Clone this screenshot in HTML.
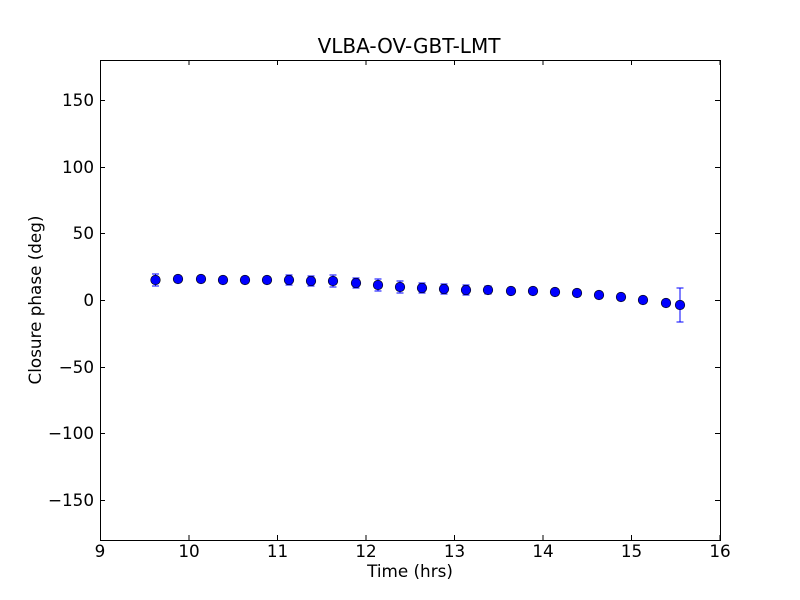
<!DOCTYPE html><html><head><style>body{margin:0;background:#fff}svg{display:block}text{font-family:"DejaVu Sans","Liberation Sans",sans-serif;font-size:16.8px;fill:#000}</style></head><body>
<svg width="800" height="600" xmlns="http://www.w3.org/2000/svg">
<rect width="800" height="600" fill="#fff"/>
<g stroke="#000" stroke-width="1" fill="none">
<rect x="100.5" y="60.5" width="620" height="480"/>
<path d="M100.5 540v-5M189 540v-5M277.5 540v-5M366 540v-5M454.5 540v-5M543 540v-5M631.5 540v-5M720 540v-5
M100.5 60v5M189 60v5M277.5 60v5M366 60v5M454.5 60v5M543 60v5M631.5 60v5M720 60v5
M100 100.5h5M100 167.5h5M100 233.5h5M100 300.5h5M100 367.5h5M100 433.5h5M100 500.5h5
M720 100.5h-5M720 167.5h-5M720 233.5h-5M720 300.5h-5M720 367.5h-5M720 433.5h-5M720 500.5h-5"/>
</g>
<g text-anchor="middle">
<text x="100" y="557">9</text><text x="189" y="557">10</text><text x="277.5" y="557">11</text><text x="366" y="557">12</text><text x="454.5" y="557">13</text><text x="543" y="557">14</text><text x="631.5" y="557">15</text><text x="720" y="557">16</text>
<text x="410" y="577">Time (hrs)</text>
<text x="409" y="53" style="font-size:20px">VLBA-OV-GBT-LMT</text>
<text transform="translate(41 300) rotate(-90)">Closure phase (deg)</text>
</g>
<g text-anchor="end">
<text x="94" y="106">150</text><text x="94" y="173">100</text><text x="94" y="239">50</text><text x="94" y="306">0</text><text x="94" y="373">−50</text><text x="94" y="439">−100</text><text x="94" y="506">−150</text>
</g>
<g stroke="#00f" stroke-width="1" fill="none">
<path d="M155.5 274V286M152 274h7M152 286h7"/>
<path d="M178 276V282M174.5 276h7M174.5 282h7"/>
<path d="M201 276V282M197.5 276h7M197.5 282h7"/>
<path d="M223 277V283M219.5 277h7M219.5 283h7"/>
<path d="M245 277V283M241.5 277h7M241.5 283h7"/>
<path d="M267 277V283M263.5 277h7M263.5 283h7"/>
<path d="M289 275V285M285.5 275h7M285.5 285h7"/>
<path d="M311 276V286M307.5 276h7M307.5 286h7"/>
<path d="M333 275V287M329.5 275h7M329.5 287h7"/>
<path d="M356 278V288M352.5 278h7M352.5 288h7"/>
<path d="M378 279V291M374.5 279h7M374.5 291h7"/>
<path d="M400 281V293M396.5 281h7M396.5 293h7"/>
<path d="M422 283V293M418.5 283h7M418.5 293h7"/>
<path d="M444 284V294M440.5 284h7M440.5 294h7"/>
<path d="M466 285V295M462.5 285h7M462.5 295h7"/>
<path d="M488 286V294M484.5 286h7M484.5 294h7"/>
<path d="M511 288V294M507.5 288h7M507.5 294h7"/>
<path d="M533 288V294M529.5 288h7M529.5 294h7"/>
<path d="M555 290V294M551.5 290h7M551.5 294h7"/>
<path d="M577 291V295M573.5 291h7M573.5 295h7"/>
<path d="M599 293V297M595.5 293h7M595.5 297h7"/>
<path d="M621 295V299M617.5 295h7M617.5 299h7"/>
<path d="M643 298V302M639.5 298h7M639.5 302h7"/>
<path d="M666 300V306M662.5 300h7M662.5 306h7"/>
<path d="M680 288V322M676.5 288h7M676.5 322h7"/>
</g>
<g fill="#00f" stroke="#000" stroke-width="0.6">
<circle cx="155.5" cy="280" r="4.8"/><circle cx="178" cy="279" r="4.8"/><circle cx="201" cy="279" r="4.8"/><circle cx="223" cy="280" r="4.8"/><circle cx="245" cy="280" r="4.8"/><circle cx="267" cy="280" r="4.8"/><circle cx="289" cy="280" r="4.8"/><circle cx="311" cy="281" r="4.8"/><circle cx="333" cy="281" r="4.8"/><circle cx="356" cy="283" r="4.8"/><circle cx="378" cy="285" r="4.8"/><circle cx="400" cy="287" r="4.8"/><circle cx="422" cy="288" r="4.8"/><circle cx="444" cy="289" r="4.8"/><circle cx="466" cy="290" r="4.8"/><circle cx="488" cy="290" r="4.8"/><circle cx="511" cy="291" r="4.8"/><circle cx="533" cy="291" r="4.8"/><circle cx="555" cy="292" r="4.8"/><circle cx="577" cy="293" r="4.8"/><circle cx="599" cy="295" r="4.8"/><circle cx="621" cy="297" r="4.8"/><circle cx="643" cy="300" r="4.8"/><circle cx="666" cy="303" r="4.8"/><circle cx="680" cy="305" r="4.8"/>
</g>
</svg></body></html>
